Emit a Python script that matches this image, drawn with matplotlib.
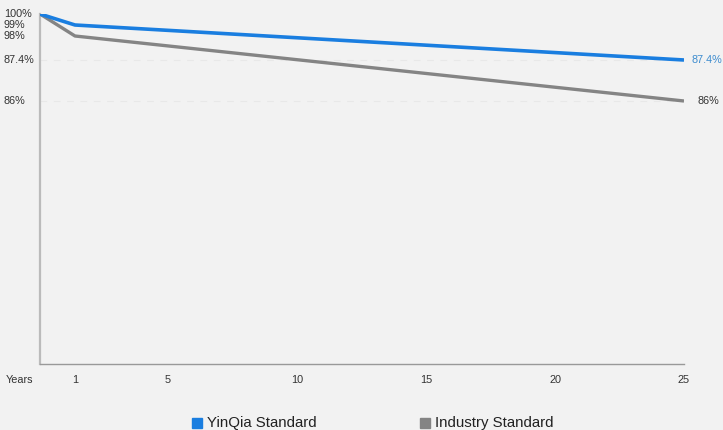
import numpy as np
import matplotlib
matplotlib.use("Agg")
import matplotlib.pyplot as plt
import matplotlib.transforms as mtransforms

plt.rcParams['font.family'] = ['Liberation Sans', 'DejaVu Sans']

years = [0, 1, 25]
yinqia = [100, 99, 87.4]
industry = [100, 98, 86]
y_labels = [100, 99, 98, 87.4, 86]
x_ticks = [1, 5, 10, 15, 20, 25]

# the original chart is not linear on either axis, so map values piecewise
y_vals = [80, 86, 87.4, 98, 99, 100]
y_pos = [0, 263, 304, 328, 339, 350]
x_vals = [0, 1, 5, 25]
x_pos = [0, 35, 128, 644]


def yf(v):
    return np.interp(v, y_vals, y_pos)


def yi(p):
    return np.interp(p, y_pos, y_vals)


def xf(v):
    return np.interp(v, x_vals, x_pos)


def xi(p):
    return np.interp(p, x_pos, x_vals)


bg = '#f2f2f2'
blue = '#1a7ee0'
grey = '#848484'
txt = '#333333'
fs = 7.8

fig = plt.figure(figsize=(7.23, 4.30), dpi=100, facecolor=bg)
ax = fig.add_axes([40/723, 1-364/430, 644/723, 350/430], facecolor=bg)
ax.set_yscale('function', functions=(yf, yi))
ax.set_xscale('function', functions=(xf, xi))
ax.set_xlim(0, 25)
ax.set_ylim(80, 100)

for v in [87.4, 86]:
    ax.axhline(v, color='#e8e8e8', lw=0.8, ls=(0, (6, 6)), zorder=1)

ax.plot(years, industry, color=grey, lw=2.4, zorder=3, solid_capstyle='butt')
ax.plot(years, yinqia, color=blue, lw=2.6, zorder=4, solid_capstyle='butt')

for s in ['top', 'right']:
    ax.spines[s].set_visible(False)
ax.spines['left'].set_color('#bbbbbb')
ax.spines['left'].set_linewidth(1.6)
ax.spines['bottom'].set_color('#999999')
ax.spines['bottom'].set_linewidth(1.0)

ax.set_yticks([])
ax.set_xticks(x_ticks)
ax.set_xticklabels([str(t) for t in x_ticks], fontsize=fs, color=txt)
ax.tick_params(axis='x', length=0, pad=8)
ax.yaxis.set_minor_locator(matplotlib.ticker.NullLocator())
ax.xaxis.set_minor_locator(matplotlib.ticker.NullLocator())

trans = mtransforms.blended_transform_factory(fig.transFigure, ax.transData)
for v in y_labels:
    ax.text(4/723, v, f'{v:g}%', transform=trans, ha='left', va='center',
            fontsize=fs, color=txt)

ax.text(6/723, 1-380/430, 'Years', transform=fig.transFigure, ha='left',
        va='center', fontsize=fs, color=txt)

ax.text(692/723, yinqia[-1], f'{yinqia[-1]:g}%', transform=trans,
        ha='left', va='center', fontsize=fs, color='#3d8ccf')
ax.text(697/723, industry[-1], f'{industry[-1]:g}%', transform=trans,
        ha='left', va='center', fontsize=fs, color=txt)

# legend
fig.patches.append(plt.Rectangle((192/723, 1-428/430), 10/723, 10/430,
                                 transform=fig.transFigure, color=blue))
fig.text(207/723, 1-423/430, 'YinQia Standard', ha='left', va='center',
         fontsize=10.8, color='#222222')
fig.patches.append(plt.Rectangle((420/723, 1-428/430), 10/723, 10/430,
                                 transform=fig.transFigure, color=grey))
fig.text(435/723, 1-423/430, 'Industry Standard', ha='left', va='center',
         fontsize=10.8, color='#222222')

fig.savefig('out.png', dpi=100, facecolor=bg)
